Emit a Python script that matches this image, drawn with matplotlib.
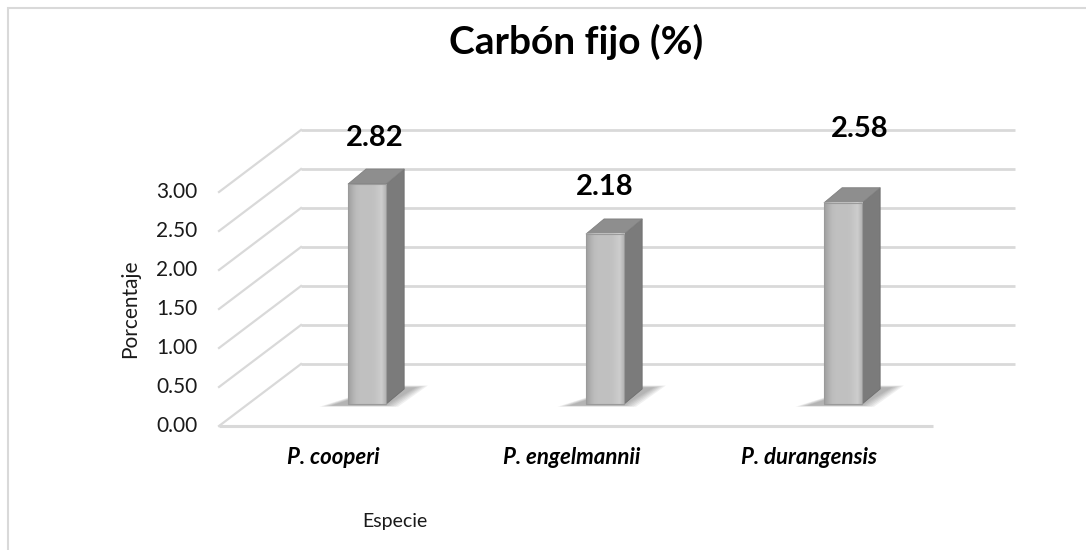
import numpy as np
import matplotlib.pyplot as plt
from matplotlib.patches import Polygon, Rectangle

plt.rcParams['font.family'] = ['Lato', 'DejaVu Sans']

# data
categories = ['P. cooperi', 'P. engelmannii', 'P. durangensis']
values = [2.82, 2.18, 2.58]
y_ticks = [0.0, 0.5, 1.0, 1.5, 2.0, 2.5, 3.0]

# label nudges (data units) to mimic the Excel 3D label placement
label_dx = [0.03, 0.0, 0.07]
label_dy = [0.59, 0.60, 0.95]

# layout: pixel scale of the fake 3D scene
W, H = 1086, 550
ox, oy = 338, 426          # pixel of (x=0, v=0) on the front plane
ux, uy = 238, 78           # pixels per category / per unit of value
DX, DY = 82 / ux, 62 / uy  # depth of the floor
bar_f = 0.355              # bars sit at this fraction of the depth
bw = 0.16                  # front face width
bdx, bdy = 18 / ux, 15 / uy  # bar depth

grid_c = '#d9d9d9'

fig = plt.figure(figsize=(W / 100, H / 100), dpi=100)
ax = fig.add_axes([0, 0, 1, 1])
ax.axis('off')

x0, x1 = -0.5, len(categories) - 0.5

# back wall + side wall gridlines
for v in y_ticks:
    ax.plot([x0 + DX, x1 + DX], [v + DY, v + DY], color=grid_c, lw=2, zorder=1,
            solid_capstyle='butt')
    ax.plot([x0, x0 + DX], [v, v + DY], color=grid_c, lw=1.6, zorder=1)
    ax.text(x0 - 0.09, v, f'{v:.2f}', ha='right', va='center', fontsize=15,
            color='#1a1a1a')
# floor front edge
ax.plot([x0, x1], [0, 0], color=grid_c, lw=2.2, zorder=1, solid_capstyle='butt')

# front face gradient (left edge darker, right edge highlight)
grad = np.array([[0.64, 0.70, 0.74, 0.75, 0.75, 0.75, 0.75, 0.76, 0.78, 0.80, 0.72]])

for i, val in enumerate(values):
    cx = i + bar_f * DX
    base = bar_f * DY
    left, right = cx - bw / 2, cx + bw / 2
    top = base + val

    # soft shadow on the floor
    for k in range(6):
        g = k * 0.010
        sh = Polygon([(left - 0.07 - g, base - 0.02 - g * 0.3),
                      (right + g, base - 0.02 - g * 0.3),
                      (right + bdx + 0.05 + g, base + bdy + 0.02 + g * 0.5),
                      (right, base + bdy + 0.02 + g * 0.5)],
                     closed=True, facecolor='#333333', edgecolor='none',
                     alpha=0.07, zorder=2)
        ax.add_patch(sh)

    # side face
    side = Polygon([(right, base), (right + bdx, base + bdy),
                    (right + bdx, top + bdy), (right, top)],
                   closed=True, facecolor='#7b7b7b', edgecolor='#6e6e6e',
                   lw=0.6, zorder=3)
    ax.add_patch(side)
    # top face
    topf = Polygon([(left, top), (right, top), (right + bdx, top + bdy),
                    (left + bdx, top + bdy)],
                   closed=True, facecolor='#8e8e8e', edgecolor='#808080',
                   lw=0.6, joinstyle='round', zorder=3)
    ax.add_patch(topf)
    # front face
    ax.imshow(grad, cmap='gray', vmin=0, vmax=1, aspect='auto',
              extent=(left, right, base, top), interpolation='bilinear',
              zorder=4)
    ax.add_patch(Rectangle((left, base), bw, val, facecolor='none',
                           edgecolor='#9a9a9a', lw=0.8, zorder=5))

    ax.text(cx + label_dx[i], top + label_dy[i], f'{val:.2f}', ha='center',
            va='center', fontsize=21, fontweight='bold', color='#000000')

    ax.text(i - 0.02, -0.40, categories[i], ha='center', va='center', fontsize=16,
            fontweight='bold', fontstyle='italic', color='#000000')

ax.set_xlim(-ox / ux, (W - ox) / ux)
ax.set_ylim((oy - H) / uy, oy / uy)

fig.text(576 / W, 1 - 42 / H, 'Carbón fijo (%)', ha='center', va='center',
         fontsize=28, fontweight='bold', color='#000000')
fig.text(130 / W, 1 - 309 / H, 'Porcentaje', ha='center', va='center',
         rotation=90, fontsize=15, color='#1a1a1a')
fig.text(395 / W, 1 - 521 / H, 'Especie', ha='center', va='center',
         fontsize=14, color='#1a1a1a')

# chart area border (runs off the right and bottom edges)
fig.patches.append(Rectangle((8 / W, -0.05), 1.1, 1 - 8 / H + 0.05,
                             transform=fig.transFigure, facecolor='none',
                             edgecolor='#d9d9d9', lw=1.5))

fig.savefig('out.png', dpi=100)
